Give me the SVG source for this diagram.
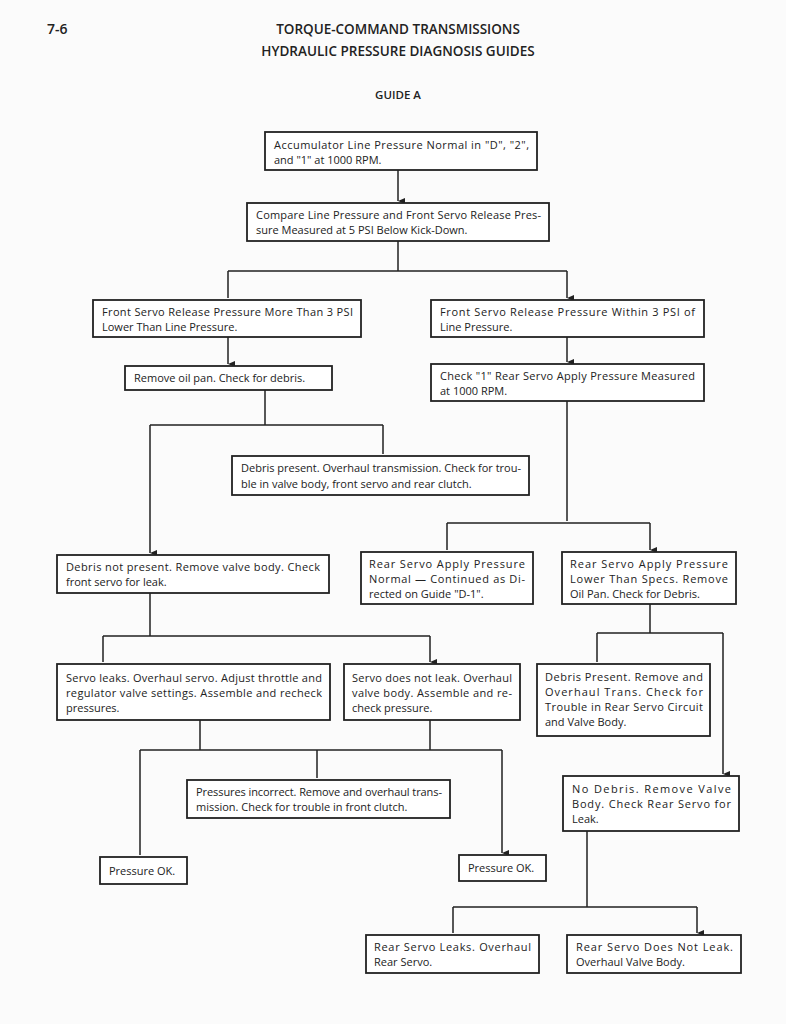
<svg xmlns="http://www.w3.org/2000/svg" width="786" height="1024" viewBox="0 0 786 1024">
<defs>
<marker id="a" markerWidth="8" markerHeight="8" refX="4" refY="7" orient="auto" markerUnits="userSpaceOnUse"><path d="M1,0 L4,7 L7,0 Z" fill="#222"/></marker>
<style>
rect{fill:#fff;stroke:#222;stroke-width:1.8}
text{font-family:"Open Sans","Liberation Sans",sans-serif;font-size:11px;fill:#222}
.h{font-size:13.5px;text-anchor:middle;font-weight:600}
#c path{fill:none;stroke:#222;stroke-width:1.5}
</style>
</defs>
<rect x="0" y="0" width="786" height="1024" style="fill:#fbfbfb;stroke:none"/>
<text x="47" y="34" style="font-size:14px;font-weight:600">7-6</text>
<text class="h" x="398" y="34">TORQUE-COMMAND TRANSMISSIONS</text>
<text class="h" x="398" y="56">HYDRAULIC PRESSURE DIAGNOSIS GUIDES</text>
<text class="h" x="398" y="99" style="font-size:11.5px">GUIDE A</text>
<g id="c">
<path d="M398,170V201" marker-end="url(#a)"/>
<path d="M398,241V271M228,271H567M228,271V298M567,271V298" marker-end="url(#a)"/>
<path d="M228,337V364" marker-end="url(#a)"/>
<path d="M567,337V362" marker-end="url(#a)"/>
<path d="M265,390V425M150,425H383M383,425V454M150,425V553" marker-end="url(#a)"/>
<path d="M567,401V521M447,523H650M447,523V550M650,523V550" marker-end="url(#a)"/>
<path d="M150,593V636M103,636H430M103,636V662M430,636V662" marker-end="url(#a)"/>
<path d="M650,604V633M597,633H723M597,633V662M723,633V774" marker-end="url(#a)"/>
<path d="M200,720V750M430,720V750M140,750H502M140,750V855M317,750V778M502,750V853" marker-end="url(#a)"/>
<path d="M587,831V907M453,907H697M453,907V933M697,907V933" marker-end="url(#a)"/>
</g>
<g id="n1"><rect x="265" y="132" width="272" height="38"/><text x="274" y="149" textLength="255" lengthAdjust="spacing">Accumulator Line Pressure Normal in "D", "2",</text><text x="274" y="164">and "1" at 1000 RPM.</text></g>
<g id="n2"><rect x="247" y="203" width="302" height="38"/><text x="256" y="219" textLength="285" lengthAdjust="spacing">Compare Line Pressure and Front Servo Release Pres-</text><text x="256" y="234">sure Measured at 5 PSI Below Kick-Down.</text></g>
<g id="n3"><rect x="93" y="300" width="268" height="37"/><text x="102" y="316" textLength="251" lengthAdjust="spacing">Front Servo Release Pressure More Than 3 PSI</text><text x="102" y="331">Lower Than Line Pressure.</text></g>
<g id="n4"><rect x="431" y="300" width="273" height="37"/><text x="440" y="316" textLength="255" lengthAdjust="spacing">Front Servo Release Pressure Within 3 PSI of</text><text x="440" y="331">Line Pressure.</text></g>
<g id="n5"><rect x="125" y="366" width="207" height="24"/><text x="134" y="382">Remove oil pan. Check for debris.</text></g>
<g id="n6"><rect x="431" y="364" width="273" height="37"/><text x="440" y="380" textLength="255" lengthAdjust="spacing">Check "1" Rear Servo Apply Pressure Measured</text><text x="440" y="395">at 1000 RPM.</text></g>
<g id="n7"><rect x="232" y="456" width="297" height="39"/><text x="241" y="472" textLength="280" lengthAdjust="spacingAndGlyphs">Debris present. Overhaul transmission. Check for trou-</text><text x="241" y="488">ble in valve body, front servo and rear clutch.</text></g>
<g id="n8"><rect x="57" y="555" width="272" height="38"/><text x="66" y="571" textLength="254" lengthAdjust="spacing">Debris not present. Remove valve body. Check</text><text x="66" y="586">front servo for leak.</text></g>
<g id="n9"><rect x="361" y="552" width="172" height="52"/><text x="369" y="568" textLength="156" lengthAdjust="spacing">Rear Servo Apply Pressure</text><text x="369" y="583" textLength="156" lengthAdjust="spacing">Normal — Continued as Di-</text><text x="369" y="598">rected on Guide "D-1".</text></g>
<g id="n10"><rect x="562" y="552" width="174" height="52"/><text x="570" y="568" textLength="158" lengthAdjust="spacing">Rear Servo Apply Pressure</text><text x="570" y="583" textLength="158" lengthAdjust="spacing">Lower Than Specs. Remove</text><text x="570" y="598">Oil Pan. Check for Debris.</text></g>
<g id="n11"><rect x="57" y="664" width="273" height="56"/><text x="66" y="682" textLength="256" lengthAdjust="spacing">Servo leaks. Overhaul servo. Adjust throttle and</text><text x="66" y="697" textLength="256" lengthAdjust="spacing">regulator valve settings. Assemble and recheck</text><text x="66" y="712">pressures.</text></g>
<g id="n12"><rect x="344" y="664" width="176" height="56"/><text x="352" y="682" textLength="160" lengthAdjust="spacing">Servo does not leak. Overhaul</text><text x="352" y="697" textLength="160" lengthAdjust="spacing">valve body. Assemble and re-</text><text x="352" y="712">check pressure.</text></g>
<g id="n13"><rect x="537" y="664" width="173" height="72"/><text x="545" y="681" textLength="158" lengthAdjust="spacing">Debris Present. Remove and</text><text x="545" y="696" textLength="158" lengthAdjust="spacing">Overhaul Trans. Check for</text><text x="545" y="711" textLength="158" lengthAdjust="spacing">Trouble in Rear Servo Circuit</text><text x="545" y="726">and Valve Body.</text></g>
<g id="n14"><rect x="187" y="780" width="263" height="38"/><text x="196" y="796" textLength="246" lengthAdjust="spacing">Pressures incorrect. Remove and overhaul trans-</text><text x="196" y="811">mission. Check for trouble in front clutch.</text></g>
<g id="n15"><rect x="563" y="776" width="176" height="55"/><text x="572" y="793" textLength="159" lengthAdjust="spacing">No Debris. Remove Valve</text><text x="572" y="808" textLength="159" lengthAdjust="spacing">Body. Check Rear Servo for</text><text x="572" y="823">Leak.</text></g>
<g id="n16"><rect x="100" y="857" width="87" height="27"/><text x="109" y="875">Pressure OK.</text></g>
<g id="n17"><rect x="459" y="855" width="87" height="26"/><text x="468" y="872">Pressure OK.</text></g>
<g id="n18"><rect x="366" y="935" width="173" height="38"/><text x="374" y="951" textLength="157" lengthAdjust="spacing">Rear Servo Leaks. Overhaul</text><text x="374" y="966">Rear Servo.</text></g>
<g id="n19"><rect x="567" y="935" width="174" height="38"/><text x="576" y="951" textLength="157" lengthAdjust="spacing">Rear Servo Does Not Leak.</text><text x="576" y="966">Overhaul Valve Body.</text></g>
</svg>
